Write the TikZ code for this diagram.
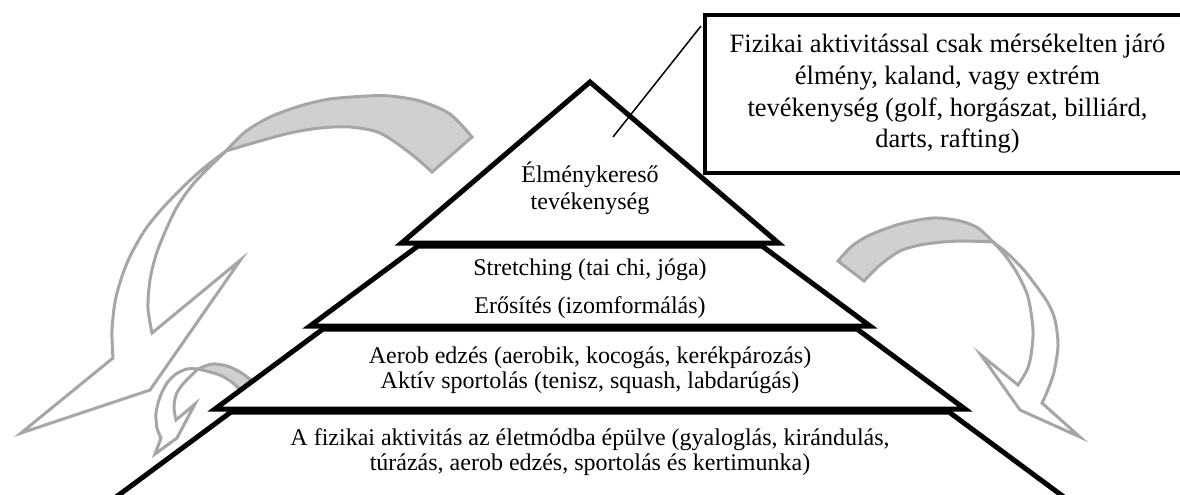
\documentclass[tikz,border=0pt]{standalone}
\usepackage{fontspec}
\setmainfont{Liberation Serif}
\definecolor{arrowgrey}{HTML}{A6A6A6}
\definecolor{ribbongrey}{HTML}{D0D0D0}
\begin{document}
\begin{tikzpicture}[x=1pt,y=-1pt,
  level/.style={draw=black,fill=white,line width=5pt,line join=miter,miter limit=10},
  grey line/.style={draw=arrowgrey,line width=3pt,line join=miter,miter limit=12},
  ribbon/.style={grey line,fill=ribbongrey},
  arrow body/.style={grey line,fill=white},
  level text/.style={align=center,inner sep=0pt,font=\fontsize{24}{27}\selectfont},
  note/.style={draw=black,fill=white,line width=4pt,align=center,inner sep=0pt,
    minimum width=485pt,minimum height=158pt,font=\fontsize{26.5}{31.7}\selectfont},
  callout/.style={draw=black,line width=1.5pt}]
\useasboundingbox (0,0) rectangle (1180,495);
\clip (0,0) rectangle (1180,495);

% ---- left big curved arrow ----
\path[ribbon] plot[smooth] coordinates {(472,137) (450,114) (420,101) (390,96) (367,96) (330,99) (300,106) (270,117) (245,132) (226,151)}
  -- plot[smooth] coordinates {(226,151) (260,141) (290,133) (320,128) (350,127) (380,133) (410,153) (432,172)} -- cycle;
\path[arrow body] plot[smooth] coordinates {(226,151) (205,167) (183,187) (160,211) (143,233) (127,263) (116,297) (112,330) (113,358)}
  -- (21,433) -- (150,390) -- (240.5,260) -- (152,333)
  -- plot[smooth] coordinates {(152,333) (148,308) (150,280) (156,255) (165,232) (177,207) (195,182) (226,151)} -- cycle;

% ---- right curved arrow ----
\path[ribbon] plot[smooth] coordinates {(838,261) (852,246) (870,235) (900,224) (933,218) (960,221) (978,228) (993,242)}
  -- plot[smooth] coordinates {(993,242) (965,241) (943,242) (920,245) (900,251) (880,265) (864,281)} -- cycle;
\path[arrow body] plot[smooth] coordinates {(993,242) (1007,253) (1023,269) (1037,287) (1048,303) (1055,320) (1058,345) (1054,372) (1047,392) (1042,403)}
  -- (1080,437) -- (1020,410) -- (981,355) -- (1018,385)
  -- plot[smooth] coordinates {(1018,385) (1027,370) (1031,355) (1033,330) (1028,297) (1017,273) (1004,254) (993,242)} -- cycle;

% ---- small left curved arrow ----
\path[ribbon] plot[smooth] coordinates {(251,380) (240,372) (227,366) (212,364) (198,369)}
  -- plot[smooth] coordinates {(198,369) (210,372) (222,376) (233,383) (241,391)} -- cycle;
\path[arrow body] plot[smooth] coordinates {(198,369) (187,369) (176,374) (167,383) (160,397) (156,413) (157,428) (161,438)}
  -- (155,454) -- (177,438) -- (195,404) -- (176,420)
  -- plot[smooth] coordinates {(176,420) (174,408) (176,395) (183,384) (198,369)} -- cycle;

% ---- pyramid ----
\path[level] (590,82) -- (778.4,243) -- (401.6,243) -- cycle;
\path[level] (418,246) -- (762,246) -- (870,326) -- (310,326) -- cycle;
\path[level] (323,329) -- (857,329) -- (965,409) -- (215,409) -- cycle;
\path[level] (231,412) -- (949,412) -- (1095,520) -- (85,520) -- cycle;

\node[level text] (t1) at (590,187.8) {Élménykereső\\tevékenység};
\node[level text,font=\fontsize{24}{38}\selectfont] (t2) at (590,288.3) {Stretching (tai chi, jóga)\\Erősítés (izomformálás)};
\node[level text,font=\fontsize{24}{25}\selectfont] (t3) at (590,369.8) {Aerob edzés (aerobik, kocogás, kerékpározás)\\Aktív sportolás (tenisz, squash, labdarúgás)};
\node[level text,font=\fontsize{24}{25}\selectfont] (t4) at (590,451.8) {A fizikai aktivitás az életmódba épülve (gyaloglás, kirándulás,\\túrázás, aerob edzés, sportolás és kertimunka)};

% ---- callout ----
\coordinate (cstart) at (613,137);
\node[note] (box) at (947.5,94) {Fizikai aktivitással csak mérsékelten járó\\élmény, kaland, vagy extrém\\tevékenység (golf, horgászat, billiárd,\\darts, rafting)};
\draw[callout] (cstart) -- ([yshift=-13pt,xshift=-2pt]box.north west);
\end{tikzpicture}
\end{document}
